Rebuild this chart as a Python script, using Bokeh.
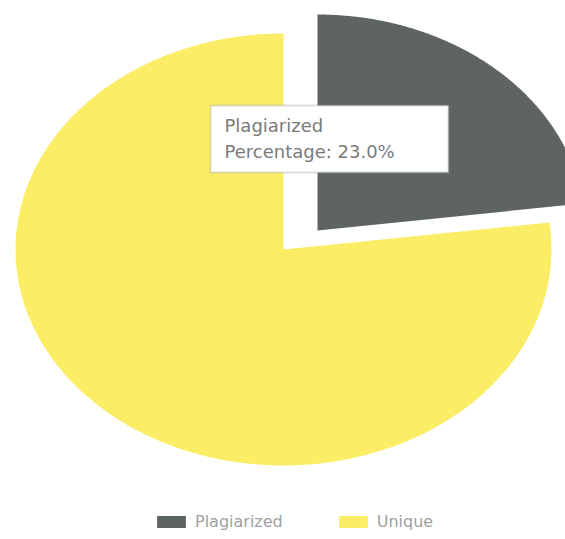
import numpy as np
from bokeh.plotting import figure
from bokeh.models import Range1d, BoxAnnotation, Label, Legend, LegendItem, ColumnDataSource
from bokeh.embed import file_html
from bokeh.resources import INLINE

# ---- data ----
labels = ["Plagiarized", "Unique"]
values = [23.0, 77.0]
colors = ["#5e6560", "#fbee66"]
explode = [True, False]

# ---- layout constants (pixels in plot space, y downward) ----
W, H = 565, 539
CX, CY = 283, 249
RX, RY = 268, 216
EXPLODE_DX, EXPLODE_DY = 34, -19

p = figure(width=W, height=H, output_backend="svg", toolbar_location=None,
           x_range=Range1d(0, W), y_range=Range1d(H, 0), min_border=0)
p.axis.visible = False
p.grid.visible = False
p.outline_line_color = None
p.background_fill_color = "white"

total = sum(values)
start = 0.0
renderers = []
for lab, val, col, ex in zip(labels, values, colors, explode):
    frac0 = start / total
    frac1 = (start + val) / total
    start += val
    th = np.linspace(frac0 * 2 * np.pi, frac1 * 2 * np.pi, 240)
    cx = CX + (EXPLODE_DX if ex else 0)
    cy = CY + (EXPLODE_DY if ex else 0)
    xs = np.concatenate([[cx], cx + RX * np.sin(th), [cx]])
    ys = np.concatenate([[cy], cy - RY * np.cos(th), [cy]])
    src = ColumnDataSource(dict(xs=[list(xs)], ys=[list(ys)]))
    r = p.patches("xs", "ys", source=src, fill_color=col, line_color=None)
    renderers.append(r)

# tooltip-like box
box = BoxAnnotation(left=210, right=448, top=105, bottom=172,
                    fill_color="white", fill_alpha=1.0,
                    line_color="#8f8f8f", line_width=2)
p.add_layout(box)
p.add_layout(Label(x=224, y=125, text=labels[0], text_baseline="middle",
                   text_font="DejaVu Sans", text_font_size="18px", text_color="#7a7a7a"))
p.add_layout(Label(x=224, y=151, text=f"Percentage: {values[0]:.1f}%", text_baseline="middle",
                   text_font="DejaVu Sans", text_font_size="18px", text_color="#7a7a7a"))

legend = Legend(items=[LegendItem(label=l, renderers=[r]) for l, r in zip(labels, renderers)],
                orientation="horizontal", location=(153, 8),
                glyph_width=36, glyph_height=15, label_standoff=6, spacing=52,
                padding=0, margin=0, border_line_color=None, background_fill_alpha=0,
                label_text_font="DejaVu Sans", label_text_font_size="16px",
                label_text_color="#a0a0a0")
p.add_layout(legend, "center")

open("out.html", "w").write(file_html(p, INLINE))
